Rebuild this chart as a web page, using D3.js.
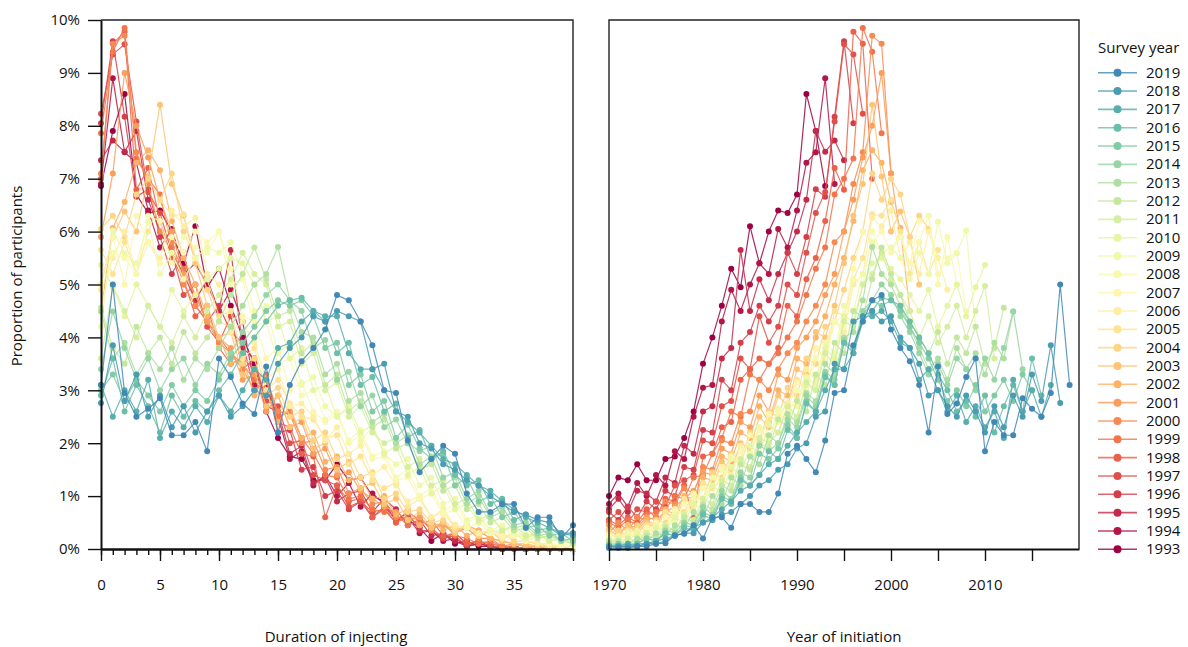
<!DOCTYPE html>
<html>
<head>
<meta charset="utf-8">
<script src="https://cdn.jsdelivr.net/npm/d3@7"></script>
<style>
  body { margin: 0; background: #fff; }
  svg text { font-family: "Open Sans", "DejaVu Sans", sans-serif; fill: #111; }
</style>
</head>
<body>
<svg id="chart" width="1188" height="647"></svg>
<script>
// Survey years, oldest first (drawn in this order, newest on top)
const surveyYears = [1993, 1994, 1995, 1996, 1997, 1998, 1999, 2000, 2001, 2002, 2003, 2004, 2005,
  2006, 2007, 2008, 2009, 2010, 2011, 2012, 2013, 2014, 2015, 2016, 2017, 2018, 2019];

// Proportion of participants (%) by duration of injecting in years, starting at duration 0
const s1993 = [6.86, 7.90, 8.60, 6.70, 6.35, 6.40, 6.00, 5.40, 6.10, 4.95, 5.30, 4.60, 4.00, 3.50, 2.60, 2.10, 1.75, 1.70, 1.30, 1.30, 1.60, 1.30, 1.35, 1.00, 0.90, 0.60, 0.55, 0.40, 0.15, 0.30, 0.10, 0.15, 0.05, 0.05, 0.00, 0.05, 0.00, 0.00, 0.00, 0.00, 0.00];
const s1994 = [6.90, 8.90, 7.50, 7.30, 6.40, 5.70, 6.05, 5.20, 5.40, 5.00, 4.50, 4.90, 4.30, 3.10, 3.05, 2.50, 1.70, 1.85, 1.20, 1.40, 1.00, 1.25, 0.80, 1.05, 0.85, 0.55, 0.60, 0.30, 0.35, 0.15, 0.20, 0.05, 0.10, 0.05, 0.00, 0.05, 0.00, 0.00, 0.00, 0.00, 0.00];
const s1995 = [7.35, 7.72, 7.51, 7.90, 6.60, 6.00, 5.60, 5.20, 4.70, 5.10, 4.50, 5.65, 3.80, 3.60, 2.70, 2.60, 1.80, 1.95, 1.25, 1.35, 0.90, 1.05, 1.10, 0.70, 0.95, 0.75, 0.45, 0.55, 0.25, 0.30, 0.15, 0.05, 0.10, 0.05, 0.00, 0.05, 0.00, 0.00, 0.00, 0.00, 0.00];
const s1996 = [8.05, 9.60, 8.17, 6.66, 6.80, 5.90, 5.20, 5.60, 4.60, 4.30, 4.60, 4.10, 3.90, 3.00, 3.20, 2.20, 2.25, 1.50, 1.55, 1.00, 1.10, 0.75, 0.90, 0.60, 0.80, 0.55, 0.70, 0.35, 0.35, 0.20, 0.25, 0.05, 0.15, 0.05, 0.00, 0.05, 0.00, 0.00, 0.00, 0.00, 0.00];
const s1997 = [8.23, 9.35, 9.54, 8.08, 6.75, 6.35, 5.60, 4.80, 5.00, 4.20, 3.90, 4.40, 3.40, 3.60, 2.80, 2.70, 2.00, 2.05, 1.40, 1.30, 1.20, 0.80, 0.90, 0.70, 0.75, 0.50, 0.70, 0.55, 0.40, 0.20, 0.30, 0.10, 0.15, 0.05, 0.05, 0.00, 0.00, 0.00, 0.00, 0.00, 0.00];
const s1998 = [7.00, 9.55, 9.78, 6.79, 7.20, 6.20, 5.50, 5.10, 4.40, 4.60, 3.80, 3.50, 3.60, 3.40, 3.20, 2.40, 2.30, 1.80, 1.75, 0.60, 1.20, 0.90, 0.95, 0.60, 0.75, 0.50, 0.60, 0.45, 0.55, 0.25, 0.30, 0.10, 0.15, 0.10, 0.05, 0.00, 0.00, 0.00, 0.00, 0.00, 0.00];
const s1999 = [7.86, 9.40, 9.85, 7.38, 7.00, 6.70, 5.70, 5.30, 4.80, 4.30, 4.00, 3.70, 3.50, 3.20, 3.30, 2.50, 2.60, 2.10, 1.80, 1.40, 1.35, 0.95, 1.00, 0.75, 0.70, 0.65, 0.45, 0.55, 0.40, 0.50, 0.25, 0.20, 0.10, 0.15, 0.05, 0.05, 0.00, 0.00, 0.00, 0.00, 0.00];
const s2000 = [7.10, 9.55, 9.70, 7.50, 6.90, 6.00, 5.80, 5.00, 4.60, 4.30, 3.90, 3.70, 3.40, 3.00, 3.20, 2.60, 2.55, 2.00, 2.05, 1.50, 1.55, 1.05, 1.15, 0.85, 0.90, 0.60, 0.55, 0.60, 0.35, 0.50, 0.30, 0.40, 0.20, 0.20, 0.05, 0.10, 0.05, 0.00, 0.00, 0.00, 0.00];
const s2001 = [5.90, 7.10, 9.00, 8.00, 7.40, 6.60, 6.00, 5.20, 4.80, 4.30, 4.00, 3.80, 3.20, 3.30, 2.60, 2.90, 2.30, 2.40, 1.80, 1.90, 1.40, 1.45, 1.10, 0.95, 0.80, 0.70, 0.55, 0.60, 0.40, 0.45, 0.30, 0.45, 0.35, 0.20, 0.15, 0.10, 0.05, 0.05, 0.00, 0.00, 0.00];
const s2002 = [4.50, 6.07, 6.56, 7.30, 7.54, 7.16, 6.20, 5.50, 5.00, 4.40, 4.00, 3.50, 3.60, 2.90, 3.00, 2.40, 2.70, 2.10, 2.20, 1.65, 1.75, 1.30, 1.35, 0.95, 1.00, 0.65, 0.75, 0.45, 0.55, 0.35, 0.45, 0.25, 0.35, 0.20, 0.15, 0.10, 0.05, 0.05, 0.00, 0.00, 0.00];
const s2003 = [5.00, 5.90, 6.38, 6.00, 7.04, 8.40, 6.90, 6.30, 5.40, 4.60, 4.00, 4.10, 3.30, 3.40, 2.70, 2.90, 2.30, 2.50, 1.90, 2.00, 1.50, 1.65, 1.15, 1.25, 0.85, 0.95, 0.55, 0.70, 0.40, 0.50, 0.30, 0.45, 0.25, 0.35, 0.15, 0.10, 0.10, 0.05, 0.05, 0.00, 0.00];
const s2004 = [6.05, 6.30, 5.90, 6.70, 7.00, 6.60, 7.10, 6.00, 5.50, 4.90, 4.30, 4.20, 3.50, 3.60, 2.90, 3.05, 2.50, 2.60, 2.05, 2.20, 1.70, 1.80, 1.35, 1.45, 0.95, 1.05, 0.70, 0.75, 0.50, 0.55, 0.35, 0.45, 0.25, 0.35, 0.30, 0.15, 0.15, 0.10, 0.05, 0.05, 0.00];
const s2005 = [5.65, 5.20, 5.80, 5.20, 6.00, 6.60, 6.30, 6.33, 5.50, 5.10, 4.40, 4.50, 3.60, 3.80, 3.00, 3.20, 2.75, 2.50, 2.45, 2.10, 2.15, 1.60, 1.75, 1.30, 1.15, 1.25, 0.80, 0.95, 0.60, 0.70, 0.40, 0.45, 0.30, 0.35, 0.20, 0.30, 0.15, 0.10, 0.05, 0.05, 0.00];
const s2006 = [4.90, 5.50, 6.00, 5.20, 5.80, 5.50, 6.40, 6.10, 6.26, 5.20, 5.00, 4.10, 4.30, 3.90, 3.20, 3.40, 2.70, 2.75, 2.50, 2.05, 2.30, 1.80, 1.95, 1.40, 1.55, 1.20, 0.90, 1.00, 0.60, 0.75, 0.45, 0.40, 0.30, 0.35, 0.20, 0.25, 0.25, 0.10, 0.10, 0.05, 0.05];
const s2007 = [5.00, 5.90, 5.00, 6.30, 5.80, 5.40, 5.90, 5.60, 6.00, 5.80, 6.00, 5.30, 4.40, 4.30, 3.60, 3.80, 3.00, 3.15, 2.60, 2.40, 2.55, 2.00, 2.15, 1.70, 1.75, 1.30, 1.35, 0.95, 1.05, 0.65, 0.75, 0.40, 0.50, 0.30, 0.25, 0.30, 0.15, 0.25, 0.10, 0.05, 0.05];
const s2008 = [4.50, 5.60, 5.50, 5.20, 6.30, 6.20, 5.40, 5.90, 5.70, 5.60, 6.00, 5.00, 5.10, 4.20, 4.30, 3.50, 3.60, 2.90, 3.00, 2.45, 2.60, 2.05, 2.25, 1.75, 1.85, 1.35, 1.50, 1.00, 1.15, 0.70, 0.85, 0.50, 0.60, 0.30, 0.40, 0.25, 0.30, 0.20, 0.25, 0.10, 0.05];
const s2009 = [4.20, 6.02, 5.59, 5.40, 6.19, 5.20, 5.60, 5.10, 5.50, 5.70, 5.60, 5.80, 5.20, 4.50, 4.60, 3.70, 3.90, 3.10, 3.25, 2.70, 2.50, 2.65, 2.05, 2.30, 1.80, 1.60, 1.70, 1.20, 1.35, 0.85, 0.95, 0.55, 0.65, 0.35, 0.45, 0.30, 0.20, 0.30, 0.15, 0.20, 0.10];
const s2010 = [5.37, 4.95, 4.40, 5.00, 4.60, 4.20, 4.90, 4.50, 4.80, 5.10, 5.30, 5.50, 5.40, 5.00, 4.30, 4.40, 3.60, 3.80, 3.00, 3.10, 2.50, 2.70, 2.20, 2.35, 1.80, 1.95, 1.40, 1.55, 1.05, 1.20, 0.75, 0.85, 0.50, 0.60, 0.35, 0.40, 0.20, 0.30, 0.15, 0.20, 0.15];
const s2011 = [3.60, 4.97, 4.50, 4.00, 4.60, 4.20, 3.90, 4.40, 4.00, 4.50, 4.80, 5.10, 5.60, 5.20, 5.00, 4.20, 4.30, 3.50, 3.70, 3.00, 3.15, 2.50, 2.70, 2.20, 2.00, 2.10, 1.55, 1.70, 1.20, 1.30, 0.85, 0.95, 0.55, 0.65, 0.35, 0.45, 0.25, 0.30, 0.15, 0.20, 0.10, 0.15];
const s2012 = [4.56, 3.80, 3.50, 4.20, 3.70, 4.00, 3.50, 4.10, 3.70, 4.00, 4.30, 4.80, 5.20, 5.70, 5.10, 4.40, 4.50, 3.70, 3.90, 3.10, 3.30, 2.60, 2.80, 2.30, 2.45, 1.90, 2.00, 1.50, 1.60, 1.10, 1.20, 0.75, 0.85, 0.50, 0.60, 0.35, 0.40, 0.20, 0.25, 0.15, 0.10, 0.15, 0.15];
const s2013 = [4.49, 3.60, 3.90, 3.30, 3.70, 3.40, 3.80, 3.20, 3.60, 3.40, 3.80, 4.20, 4.60, 5.00, 5.20, 5.71, 4.70, 4.10, 4.00, 3.30, 3.50, 2.80, 2.95, 2.40, 2.55, 2.00, 2.15, 1.60, 1.75, 1.20, 1.35, 0.85, 1.00, 0.60, 0.70, 0.40, 0.45, 0.25, 0.30, 0.15, 0.20, 0.10, 0.10, 0.10];
const s2014 = [3.40, 4.49, 3.80, 3.20, 3.60, 3.00, 3.40, 3.60, 3.10, 3.50, 3.30, 3.70, 4.10, 4.40, 4.80, 5.00, 4.70, 4.50, 3.80, 3.95, 3.20, 3.35, 2.70, 2.90, 2.30, 2.45, 2.00, 1.85, 1.95, 1.35, 1.45, 0.95, 1.10, 0.65, 0.80, 0.45, 0.50, 0.30, 0.35, 0.15, 0.20, 0.10, 0.10, 0.05, 0.10];
const s2015 = [3.00, 3.30, 2.80, 3.20, 2.90, 2.60, 3.10, 2.70, 3.00, 2.80, 3.20, 3.60, 3.90, 4.20, 4.50, 4.70, 4.60, 4.70, 4.40, 3.80, 3.90, 3.10, 3.30, 2.60, 2.80, 2.10, 2.35, 1.90, 1.70, 1.80, 1.20, 1.35, 0.90, 1.00, 0.60, 0.70, 0.40, 0.45, 0.25, 0.30, 0.15, 0.20, 0.10, 0.05, 0.10, 0.05];
const s2016 = [2.90, 3.60, 2.60, 3.10, 2.70, 2.20, 2.90, 2.50, 2.80, 2.60, 3.00, 3.30, 3.70, 4.00, 4.30, 4.60, 4.70, 4.75, 4.50, 4.30, 3.70, 3.90, 3.10, 3.25, 2.60, 2.75, 2.10, 2.25, 1.70, 1.85, 1.40, 1.20, 1.30, 0.85, 0.95, 0.55, 0.65, 0.35, 0.40, 0.25, 0.30, 0.15, 0.10, 0.10, 0.05, 0.05, 0.05];
const s2017 = [3.10, 2.50, 3.00, 2.60, 3.20, 2.10, 2.60, 2.30, 2.70, 2.40, 2.90, 2.60, 3.00, 3.40, 3.20, 3.80, 3.90, 4.30, 4.50, 4.40, 4.40, 3.70, 3.40, 3.40, 3.00, 2.60, 2.40, 2.20, 1.95, 1.70, 1.60, 1.40, 1.20, 1.10, 0.90, 0.75, 0.60, 0.50, 0.40, 0.30, 0.25, 0.20, 0.15, 0.10, 0.05, 0.10, 0.05, 0.05];
const s2018 = [2.76, 3.85, 2.80, 3.30, 2.50, 2.90, 2.30, 2.70, 2.20, 2.60, 2.90, 2.50, 2.70, 3.00, 2.90, 3.50, 3.80, 4.00, 4.40, 4.30, 4.50, 4.40, 4.30, 3.40, 3.50, 2.60, 2.50, 2.00, 1.90, 1.60, 1.50, 1.30, 1.20, 1.00, 0.85, 0.70, 0.65, 0.55, 0.50, 0.30, 0.30, 0.25, 0.15, 0.10, 0.10, 0.05, 0.05, 0.05, 0.05];
const s2019 = [3.10, 5.00, 2.95, 2.50, 2.65, 2.85, 2.15, 2.15, 2.40, 1.85, 3.60, 3.25, 2.75, 2.55, 3.45, 2.20, 3.10, 3.55, 3.80, 4.15, 4.80, 4.70, 4.30, 3.85, 3.00, 2.95, 2.05, 1.45, 1.70, 1.95, 1.80, 1.05, 0.70, 0.70, 0.85, 0.85, 0.40, 0.60, 0.60, 0.20, 0.45, 0.29, 0.26, 0.11, 0.10, 0.05, 0.05, 0.02, 0.02, 0.02];

const proportions = [s1993, s1994, s1995, s1996, s1997, s1998, s1999, s2000, s2001, s2002, s2003,
  s2004, s2005, s2006, s2007, s2008, s2009, s2010, s2011, s2012, s2013, s2014, s2015, s2016,
  s2017, s2018, s2019];

// Axis ticks and labels
const yTickValues = [0, 1, 2, 3, 4, 5, 6, 7, 8, 9, 10];
const durationMinorTicks = [0, 1, 2, 3, 4, 5, 6, 7, 8, 9, 10, 11, 12, 13, 14, 15, 16, 17, 18, 19, 20,
  21, 22, 23, 24, 25, 26, 27, 28, 29, 30, 31, 32, 33, 34, 35, 36, 37, 38, 39, 40];
const durationMajorTicks = [0, 5, 10, 15, 20, 25, 30, 35, 40];
const durationLabels = [0, 5, 10, 15, 20, 25, 30, 35];
const yearTicks = [1970, 1975, 1980, 1985, 1990, 1995, 2000, 2005, 2010, 2015];
const yearLabels = [1970, 1980, 1990, 2000, 2010];

const svg = d3.select("#chart");

// Scales
const y = d3.scaleLinear().domain([0, 10]).range([549, 20]);
const xDur = d3.scaleLinear().domain([0, 40]).range([101, 573]);
const xYear = d3.scaleLinear().domain([1970, 2020]).range([609, 1079]);
const color = d3.scaleSequential(d3.interpolateSpectral).domain([1993, 1993 + 26 / 0.9]);

// Each survey: left panel by duration, right panel by year of initiation (survey year - duration)
const rows = surveyYears.map((s, i) => ({
  survey: s,
  byDuration: proportions[i].map((p, d) => ({ x: d, p })).filter(o => o.x <= 40),
  byYear: proportions[i].map((p, d) => ({ x: s - d, p })).filter(o => o.x >= 1970).reverse()
}));

function drawPanel(xScale, key) {
  const g = svg.append("g");
  const line = d3.line().x(o => xScale(o.x)).y(o => y(o.p));
  rows.forEach(r => {
    const sg = g.append("g");
    sg.append("path")
      .attr("d", line(r[key]))
      .attr("fill", "none")
      .attr("stroke", color(r.survey))
      .attr("stroke-opacity", 0.85)
      .attr("stroke-width", 1.2);
    sg.selectAll("circle").data(r[key]).join("circle")
      .attr("cx", o => xScale(o.x))
      .attr("cy", o => y(o.p))
      .attr("r", 3)
      .attr("fill", color(r.survey));
  });
}

drawPanel(xDur, "byDuration");
drawPanel(xYear, "byYear");

function styleAxis(g, domainWidth) {
  g.select(".domain").attr("stroke", "#111").attr("stroke-width", domainWidth);
  g.selectAll(".tick line").attr("stroke", "#111").attr("stroke-width", 1.4);
  g.selectAll(".tick text").attr("font-size", 15).attr("fill", "#111")
    .attr("font-family", "'Open Sans', sans-serif");
}

// Y axis (left panel)
svg.append("g").attr("transform", "translate(101,0)")
  .call(d3.axisLeft(y).tickValues(yTickValues).tickFormat(d => d + "%")
    .tickSize(13).tickPadding(8).tickSizeOuter(0))
  .call(g => styleAxis(g, 2));

// Duration axis: minor ticks every year, major ticks every five
svg.append("g").attr("transform", "translate(0,549)")
  .call(d3.axisBottom(xDur).tickValues(durationMinorTicks).tickFormat("").tickSize(6).tickSizeOuter(0))
  .call(g => styleAxis(g, 2));
svg.append("g").attr("transform", "translate(0,549)")
  .call(d3.axisBottom(xDur).tickValues(durationMajorTicks)
    .tickFormat(d => durationLabels.includes(d) ? d : "")
    .tickSize(12).tickPadding(18).tickSizeOuter(0))
  .call(g => styleAxis(g, 2));

// Year of initiation axis
svg.append("g").attr("transform", "translate(0,549)")
  .call(d3.axisBottom(xYear).tickValues(yearTicks)
    .tickFormat(d => yearLabels.includes(d) ? d : "")
    .tickSize(12).tickPadding(18).tickSizeOuter(0))
  .call(g => styleAxis(g, 2));

// Panel frames
const frame = svg.append("g").attr("fill", "none").attr("stroke", "#222").attr("stroke-width", 1.4);
frame.append("path").attr("d", `M${xDur(0)},${y(10)}H${xDur(40)}V${y(0)}`);
frame.append("path").attr("d", `M${xYear(1970)},${y(0)}V${y(10)}H${xYear(2020)}V${y(0)}`);

// Axis titles
svg.append("text").attr("x", 336).attr("y", 642).attr("text-anchor", "middle")
  .attr("font-size", 15).text("Duration of injecting");
svg.append("text").attr("x", 844).attr("y", 642).attr("text-anchor", "middle")
  .attr("font-size", 15).text("Year of initiation");
svg.append("text").attr("transform", "translate(22,276) rotate(-90)").attr("text-anchor", "middle")
  .attr("font-size", 15).text("Proportion of participants");

// Legend, newest survey first
const legend = svg.append("g");
legend.append("text").attr("x", 1098).attr("y", 53).attr("font-size", 15).text("Survey year");
const legendRows = surveyYears.slice().reverse();
const rowY = d3.scaleLinear().domain([0, legendRows.length - 1]).range([72.7, 549.3]);
legendRows.forEach((s, i) => {
  const gy = rowY(i);
  legend.append("line").attr("x1", 1098).attr("x2", 1137).attr("y1", gy).attr("y2", gy)
    .attr("stroke", color(s)).attr("stroke-opacity", 0.8).attr("stroke-width", 1.6);
  legend.append("circle").attr("cx", 1117.5).attr("cy", gy).attr("r", 4).attr("fill", color(s));
  legend.append("text").attr("x", 1146).attr("y", gy + 5).attr("font-size", 15).text(s);
});
</script>
</body>
</html>
